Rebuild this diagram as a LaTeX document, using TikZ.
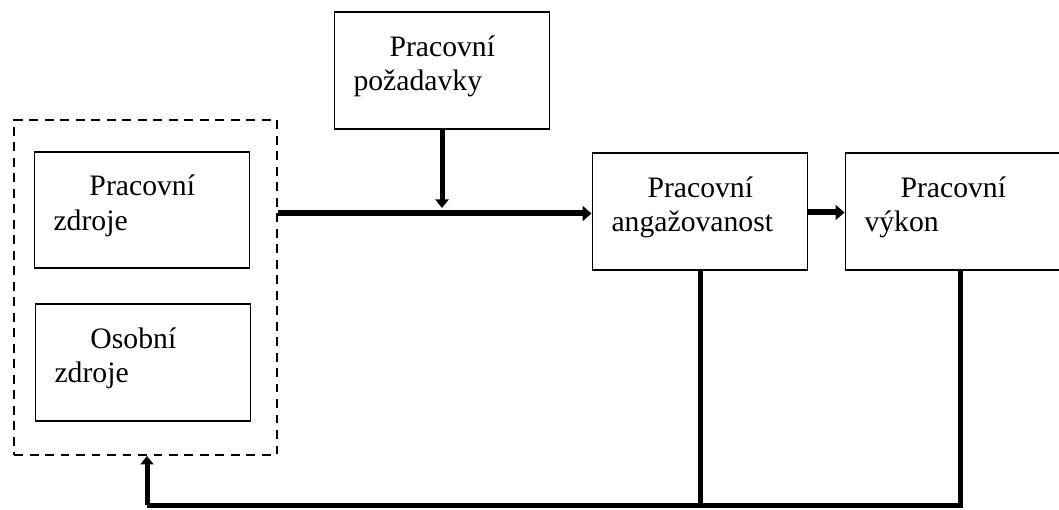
\documentclass[tikz,border=0pt]{standalone}
\usepackage{fontspec}
\setmainfont{Liberation Serif}
\usetikzlibrary{arrows.meta,positioning,calc}

\begin{document}
\begin{tikzpicture}[
  box/.style={draw, line width=1.1pt, minimum width=4.3cm, minimum height=2.33cm,
    text width=3.54cm, inner xsep=0.38cm, align=left,
    font=\fontsize{16.9}{19.6}\selectfont,
    execute at end node={\endgraf\vspace{0.16cm}}},
  group/.style={draw, line width=1.1pt, dash pattern=on 0.18cm off 0.13cm,
    minimum width=5.26cm, minimum height=6.7cm},
  flow/.style={line width=0.12cm, -{Triangle[length=0.18cm, width=0.3cm]}},
  push/.style={line width=0.1cm, -{Triangle[length=0.17cm, width=0.26cm]}},
  back/.style={line width=0.1cm}
]
\useasboundingbox (0,0) rectangle (21.18,-10.2);

% Resources
\node[group] (res) at (2.91,-5.75) {};
\node[box] (zdroje) at (2.84,-4.2) {\hspace*{0.72cm}Pracovní\\zdroje};
\node[box] (osobni) at (2.86,-7.25) {\hspace*{0.72cm}Osobní\\zdroje};

% Demands, engagement, performance
\node[box] (pozad) at (8.84,-1.41) {\hspace*{0.72cm}Pracovní\\požadavky};
\node[box] (angaz) at (14.0,-4.23) {\hspace*{0.72cm}Pracovní\\angažovanost};
\node[box] (vykon) at (19.06,-4.23) {\hspace*{0.72cm}Pracovní\\výkon};

% Arrows
\draw[flow] (res.east |- 0,-4.27) -- (angaz.west |- 0,-4.27);
\draw[push] (pozad.south) -- (pozad.south |- 0,-4.16);
\draw[flow] (angaz.east |- 0,-4.25) -- (vykon.west |- 0,-4.25);

% Feedback
\coordinate (fb) at (2.94,-10.11);
\draw[back] ($(vykon.south)+(0.14,0)$) |- (fb);
\draw[back] (angaz.south) -- (angaz.south |- fb);
\draw[push] (fb) -- (fb |- res.south);

\end{tikzpicture}
\end{document}
